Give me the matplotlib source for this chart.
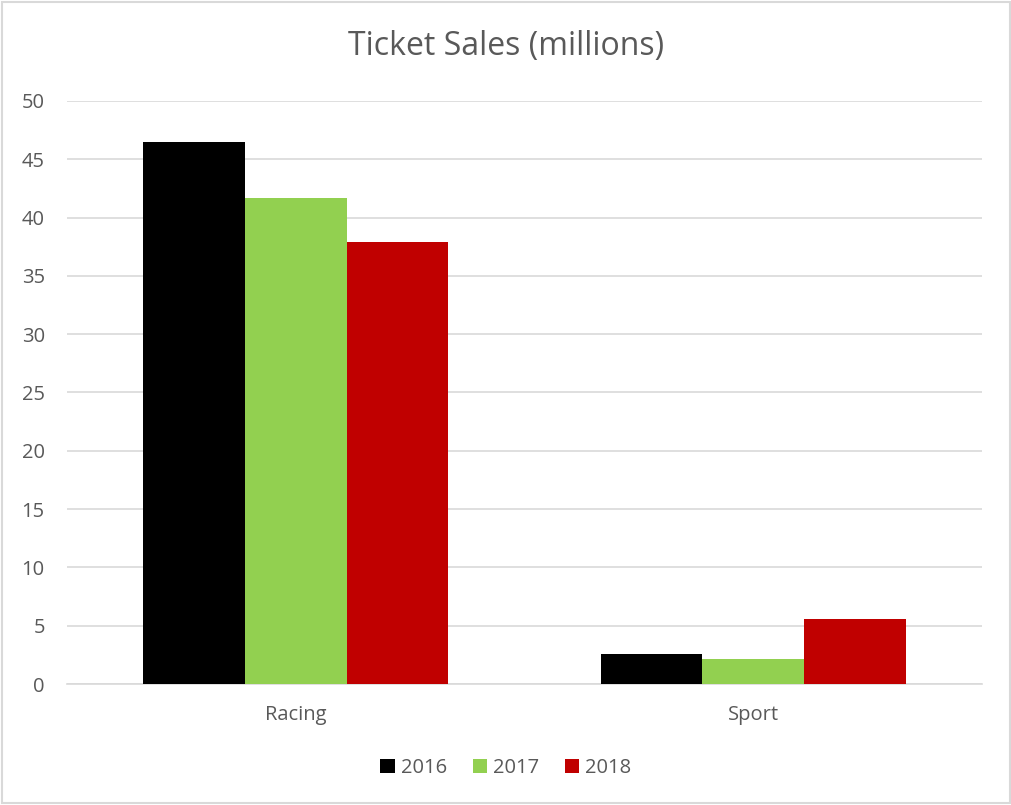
import numpy as np
import matplotlib.pyplot as plt
from matplotlib.patches import Rectangle

categories = ["Racing", "Sport"]
years = ["2016", "2017", "2018"]
sales_2016 = [46.5, 2.6]
sales_2017 = [41.7, 2.15]
sales_2018 = [37.9, 5.55]
colors = ["#000000", "#92d050", "#c00000"]

plt.rcParams["font.family"] = ["Open Sans", "DejaVu Sans"]
text_color = "#595959"

fig = plt.figure(figsize=(10.12, 8.05), dpi=100)
ax = fig.add_axes([67 / 1012, 121 / 805, 915 / 1012, 583 / 805])

x = np.arange(len(categories))
width = 0.222
for i, (vals, label) in enumerate(zip([sales_2016, sales_2017, sales_2018], years)):
    ax.bar(x + (i - 1) * width, vals, width, color=colors[i], label=label, zorder=3)

ax.set_xlim(-0.5, 1.5)
ax.set_ylim(0, 50)
ax.set_yticks(range(0, 51, 5))
ax.set_xticks(x)
ax.set_xticklabels(categories)
ax.yaxis.grid(True, color="#d9d9d9", linewidth=1.2, zorder=0)
for side in ["top", "right", "left"]:
    ax.spines[side].set_visible(False)
ax.spines["bottom"].set_color("#d9d9d9")
ax.spines["bottom"].set_linewidth(1.2)
ax.tick_params(axis="both", length=0, colors=text_color, labelsize=14.5)
ax.tick_params(axis="y", pad=16)
ax.tick_params(axis="x", pad=15)

fig.text(0.5, 1 - 47 / 805, "Ticket Sales (millions)", ha="center", va="center",
         fontsize=23, color=text_color)

leg = fig.legend(loc="center", bbox_to_anchor=(0.5, 1 - 768 / 805), ncol=3, frameon=False,
                 fontsize=14.5, handlelength=0.7, handleheight=0.7, handletextpad=0.3,
                 columnspacing=1.3)
for t in leg.get_texts():
    t.set_color(text_color)

fig.patches.append(Rectangle((0.002, 0.002), 0.996, 0.996, transform=fig.transFigure,
                             fill=False, edgecolor="#d9d9d9", linewidth=1.5))

fig.savefig("out.png", dpi=100)
